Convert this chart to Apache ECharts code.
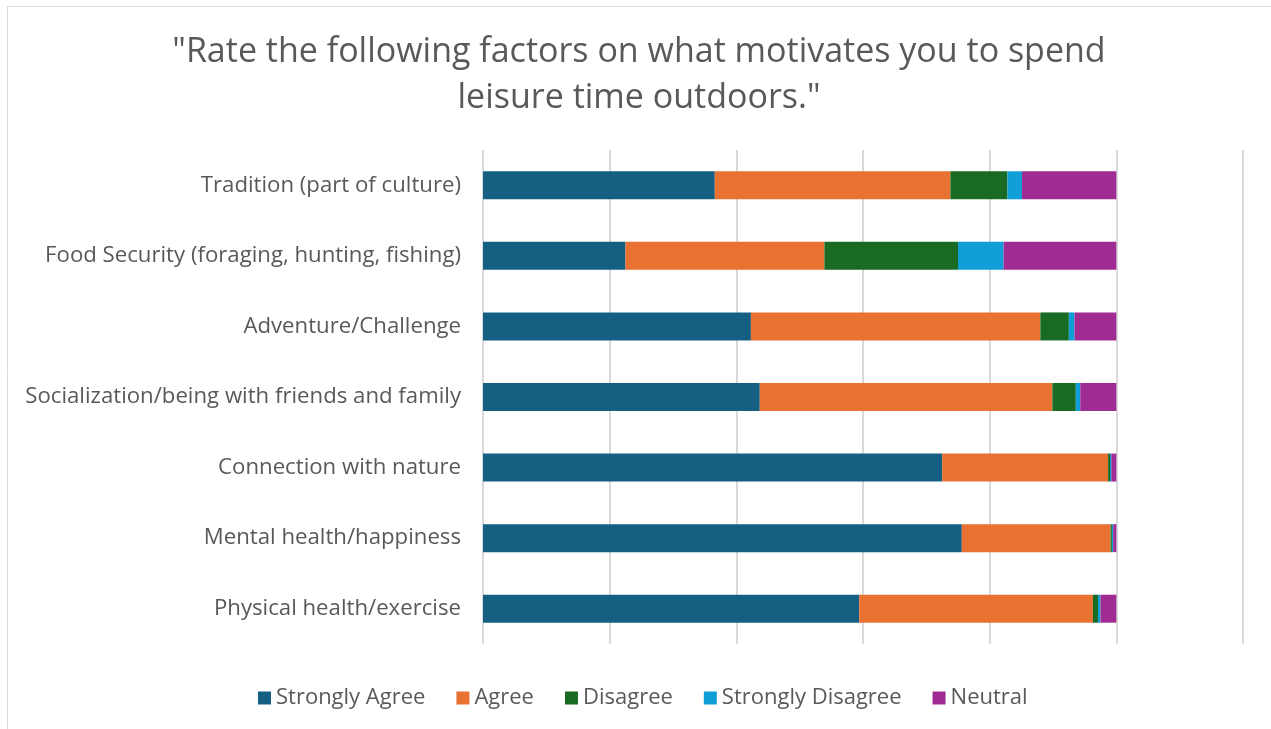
<!DOCTYPE html>
<html>
<head>
<meta charset="utf-8">
<script src="https://cdn.jsdelivr.net/npm/echarts@6/dist/echarts.min.js"></script>
<style>
  html, body { margin: 0; padding: 0; background: #ffffff; }
  #chart { width: 1271px; height: 729px; }
</style>
</head>
<body>
<div id="chart"></div>
<script>
// Motivation factors, listed from top to bottom
const categories = [
  'Tradition (part of culture)',
  'Food Security (foraging, hunting, fishing)',
  'Adventure/Challenge',
  'Socialization/being with friends and family',
  'Connection with nature',
  'Mental health/happiness',
  'Physical health/exercise'
];

// Share of respondents (%) per response, same order as categories
const stronglyAgree    = [36.6, 22.5, 42.3, 43.7, 72.5, 75.6, 59.4];
const agree            = [37.2, 31.4, 45.7, 46.2, 26.2, 23.5, 36.9];
const disagree         = [ 9.0, 21.1,  4.5,  3.7,  0.3,  0.2,  0.8];
const stronglyDisagree = [ 2.3,  7.2,  0.9,  0.7,  0.2,  0.2,  0.4];
const neutral          = [14.9, 17.8,  6.6,  5.7,  0.8,  0.5,  2.5];

const seriesNames  = ['Strongly Agree', 'Agree', 'Disagree', 'Strongly Disagree', 'Neutral'];
const seriesValues = [stronglyAgree, agree, disagree, stronglyDisagree, neutral];
const seriesColors = ['#156082', '#E97132', '#196B24', '#0F9ED5', '#A02B93'];

const titleText = '"Rate the following factors on what motivates you to spend\nleisure time outdoors."';

const FONT = 'Open Sans';
const TEXT_COLOR = '#595959';

const chart = echarts.init(document.getElementById('chart'), null, { renderer: 'canvas' });

chart.setOption({
  backgroundColor: '#ffffff',
  animation: false,
  textStyle: { fontFamily: FONT },
  legend: {
    bottom: 15,
    left: 253,
    itemWidth: 13,
    itemHeight: 13,
    itemGap: 31,
    icon: 'rect',
    textStyle: { fontFamily: FONT, fontSize: 22, color: TEXT_COLOR, padding: [0, 0, 0, 0] },
    data: seriesNames
  },
  grid: {
    left: 483,
    right: 28,
    top: 150,
    bottom: 85,
    containLabel: false
  },
  xAxis: {
    type: 'value',
    min: 0,
    max: 120,
    interval: 20,
    axisLabel: { show: false },
    axisLine: { show: false },
    axisTick: { show: false },
    splitLine: { show: true, lineStyle: { color: '#d9d9d9', width: 2 } }
  },
  yAxis: {
    type: 'category',
    inverse: true,
    data: categories,
    axisLine: { show: false },
    axisTick: { show: false },
    axisLabel: {
      margin: 22,
      fontFamily: FONT,
      fontSize: 22.2,
      color: TEXT_COLOR,
      padding: [3, 0, 0, 0]
    }
  },
  series: seriesNames.map((name, i) => ({
    name: name,
    type: 'bar',
    stack: 'total',
    barWidth: 28,
    itemStyle: { color: seriesColors[i] },
    data: seriesValues[i]
  })),
  graphic: [
    {
      type: 'rect',
      shape: { x: 7.5, y: 6.5, width: 1300, height: 740 },
      style: { fill: 'none', stroke: '#d9d9d9', lineWidth: 1 },
      silent: true
    },
    {
      type: 'text',
      x: 639,
      y: 29,
      silent: true,
      style: {
        text: titleText,
        fontFamily: FONT,
        fontSize: 34,
        lineHeight: 46,
        fill: TEXT_COLOR,
        align: 'center',
        verticalAlign: 'top'
      }
    }
  ]
});
</script>
</body>
</html>
